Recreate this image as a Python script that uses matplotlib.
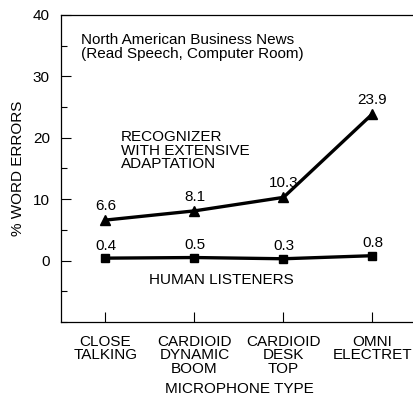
import matplotlib.pyplot as plt
from matplotlib.ticker import MultipleLocator

plt.rcParams['font.family'] = ['Liberation Sans', 'DejaVu Sans']

# datos
microfonos = ["CLOSE\nTALKING", "CARDIOID\nDYNAMIC\nBOOM", "CARDIOID\nDESK\nTOP", "OMNI\nELECTRET"]
reconocedor = [6.6, 8.1, 10.3, 23.9]
humanos = [0.4, 0.5, 0.3, 0.8]

x = list(range(len(microfonos)))

fig = plt.figure(figsize=(4.14, 4.01), dpi=100)
ax = fig.add_axes([61 / 414, 1 - 322 / 401, 356 / 414, 307 / 401])

ax.plot(x, reconocedor, marker="^", color="black", linewidth=2.4, markersize=7)
ax.plot(x, humanos, marker="s", color="black", linewidth=2.4, markersize=6)

for xi, v in zip(x, reconocedor):
    ax.annotate(f"{v}", (xi, v), textcoords="offset points", xytext=(0, 5),
                ha="center", va="bottom", fontsize=11)
for xi, v in zip(x, humanos):
    ax.annotate(f"{v}", (xi, v), textcoords="offset points", xytext=(0, 4),
                ha="center", va="bottom", fontsize=11)

ax.text(0.055, 0.94, "North American Business News\n(Read Speech, Computer Room)",
        transform=ax.transAxes, ha="left", va="top", fontsize=11, linespacing=1.0)
ax.text(0.17, 21.3, "RECOGNIZER\nWITH EXTENSIVE\nADAPTATION", ha="left", va="top",
        fontsize=11, linespacing=0.98)
ax.text(1.3, -3.1, "HUMAN LISTENERS", ha="center", va="center", fontsize=11)

ax.set_xlim(-0.5, 3.5)
ax.set_ylim(-10, 40)
ax.set_xticks(x)
ax.set_xticklabels(microfonos, fontsize=11, linespacing=0.98)
ax.set_yticks([0, 10, 20, 30, 40])
ax.yaxis.set_minor_locator(MultipleLocator(5))
ax.tick_params(axis="both", direction="in", length=7, width=0.8, labelsize=11)
ax.tick_params(axis="y", which="minor", direction="in", length=4, width=0.8)
ax.tick_params(axis="x", pad=9)
ax.tick_params(axis="y", pad=8)
ax.spines["right"].set_visible(False)
for s in ["left", "bottom", "top"]:
    ax.spines[s].set_linewidth(0.9)

ax.set_xlabel("MICROPHONE TYPE", fontsize=11, va="top")
ax.xaxis.set_label_coords(0.5, -0.195)
ax.set_ylabel("% WORD ERRORS", fontsize=11, labelpad=6)

fig.savefig("out.png", dpi=100)
